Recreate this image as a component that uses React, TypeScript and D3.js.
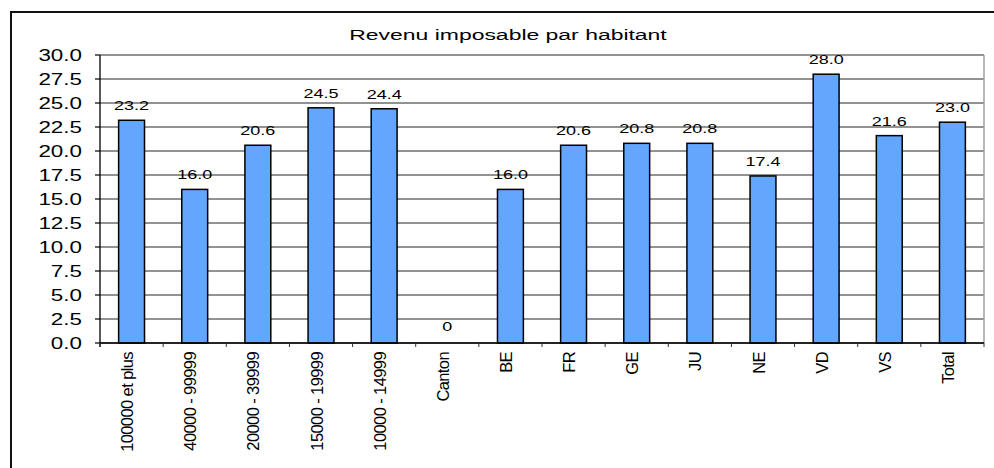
import * as d3 from "d3";
import React from "react";

const title = "Revenu imposable par habitant";
const categories = [
  "100000 et plus",
  "40000 - 99999",
  "20000 - 39999",
  "15000 - 19999",
  "10000 - 14999",
  "Canton",
  "BE",
  "FR",
  "GE",
  "JU",
  "NE",
  "VD",
  "VS",
  "Total",
];
const values = [23.2, 16.0, 20.6, 24.5, 24.4, 0, 16.0, 20.6, 20.8, 20.8, 17.4, 28.0, 21.6, 23.0];
const yTicks = [0, 2.5, 5, 7.5, 10, 12.5, 15, 17.5, 20, 22.5, 25, 27.5, 30];

const W = 994;
const H = 468;
const font = "'Liberation Sans', Arial, sans-serif";

const App = () => {
  const margin = { top: 55, right: 10, bottom: 125, left: 100 };
  const plotRight = W - margin.right;
  const plotBottom = H - margin.bottom;

  // one slot per category, bars sit in the middle of each slot
  const slot = d3.scaleBand().domain(categories).range([margin.left, plotRight]).padding(0);
  const x = d3
    .scaleBand()
    .domain(categories)
    .range([margin.left, plotRight])
    .paddingInner(0.59)
    .paddingOuter(0.295);
  const y = d3.scaleLinear().domain([0, 30]).range([plotBottom, margin.top]);

  const fmt = (v) => (v === 0 ? "0" : d3.format(".1f")(v));
  const boundaries = categories.map((c) => slot(c)).concat([plotRight]);

  return (
    <svg
      width={W}
      height={H}
      style={{ position: "absolute", left: 0, top: 0, background: "#fff" }}
      fontFamily={font}
    >
      <rect x={0} y={0} width={W} height={H} fill="#fff" />
      {/* outer frame, runs off the bottom and right */}
      <rect x={11} y={12} width={W} height={H} fill="none" stroke="#111" strokeWidth={2} />

      <text
        transform={`translate(508,40) scale(1.53,1)`}
        textAnchor="middle"
        fontSize={15}
        fill="#000"
      >
        {title}
      </text>

      {/* gridlines */}
      {yTicks.map((t) => (
        <line
          key={"g" + t}
          x1={margin.left}
          x2={plotRight}
          y1={y(t)}
          y2={y(t)}
          stroke="#6e6e6e"
          strokeWidth={1.3}
        />
      ))}
      <line x1={plotRight} x2={plotRight} y1={margin.top} y2={plotBottom} stroke="#a0a0a0" strokeWidth={1.5} />

      {/* y axis */}
      <line x1={margin.left} x2={margin.left} y1={margin.top} y2={plotBottom + 4} stroke="#000" strokeWidth={1.3} />
      {yTicks.map((t) => (
        <g key={"y" + t}>
          <line x1={margin.left - 5} x2={margin.left} y1={y(t)} y2={y(t)} stroke="#000" strokeWidth={1.2} />
          <text
            transform={`translate(82,${y(t)}) scale(1.4,1)`}
            textAnchor="end"
            dy="0.36em"
            fontSize={16}
            fill="#000"
          >
            {d3.format(".1f")(t)}
          </text>
        </g>
      ))}

      {/* bars */}
      {categories.map((c, i) => (
        <rect
          key={"b" + c}
          x={x(c)}
          y={y(values[i])}
          width={x.bandwidth()}
          height={plotBottom - y(values[i])}
          fill="#62a6fd"
          stroke="#000"
          strokeWidth={1.5}
        />
      ))}

      {/* value labels */}
      {categories.map((c, i) => (
        <text
          key={"v" + c}
          transform={`translate(${x(c) + x.bandwidth() / 2},${y(values[i]) - (values[i] === 0 ? 12 : 10)}) scale(1.5,1)`}
          textAnchor="middle"
          fontSize={12}
          fill="#000"
        >
          {fmt(values[i])}
        </text>
      ))}

      {/* x axis */}
      <line x1={margin.left} x2={plotRight} y1={plotBottom} y2={plotBottom} stroke="#000" strokeWidth={1.5} />
      {boundaries.map((b, i) => (
        <line key={"t" + i} x1={b} x2={b} y1={plotBottom} y2={plotBottom + 4} stroke="#333" strokeWidth={1} />
      ))}
      {categories.map((c) => (
        <text
          key={"c" + c}
          transform={`translate(${slot(c) + slot.bandwidth() / 2 + 1.5},352) rotate(-90)`}
          textAnchor="end"
          fontSize={16.5}
          letterSpacing={-0.6}
          fill="#000"
        >
          {c}
        </text>
      ))}
    </svg>
  );
};

export default App;
